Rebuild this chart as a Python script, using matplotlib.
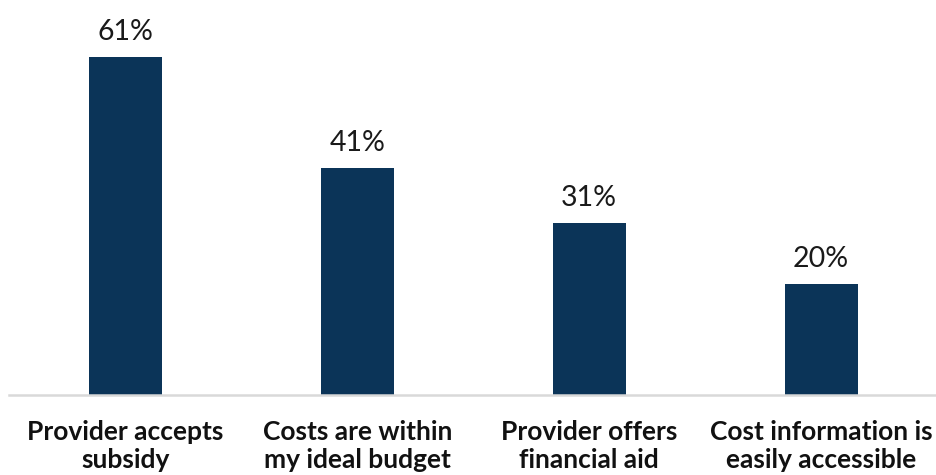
import matplotlib
matplotlib.use('Agg')
import matplotlib.pyplot as plt

# ---------- Data ----------
categories = ['Provider accepts\nsubsidy', 'Costs are within\nmy ideal budget',
              'Provider offers\nfinancial aid', 'Cost information is\neasily accessible']
values = [61, 41, 31, 20]

BAR_COLOR = '#0b3458'

plt.rcParams['font.family'] = ['Lato', 'DejaVu Sans']

fig = plt.figure(figsize=(9.37, 4.75), dpi=100)
ax = fig.add_axes([0.01, 0.168, 0.99, 0.817])

x = range(len(categories))
bars = ax.bar(x, values, width=0.315, color=BAR_COLOR, zorder=2)

for b, v in zip(bars, values):
    ax.text(b.get_x() + b.get_width() / 2, v + 2.2, f'{v}%',
            ha='center', va='bottom', fontsize=20.5, color='#1a1a1a')

ax.set_xlim(-0.5, 3.5)
ax.set_ylim(0, 70)
ax.set_xticks(list(x))
ax.set_xticklabels(categories, fontsize=19, fontweight='bold', color='#111111',
                   linespacing=1.2)
ax.tick_params(axis='x', length=0, pad=18)
ax.set_yticks([])

for side in ['top', 'right', 'left']:
    ax.spines[side].set_visible(False)
ax.spines['bottom'].set_color('#d9d9d9')
ax.spines['bottom'].set_linewidth(1.8)

fig.savefig('out.png', dpi=100)
